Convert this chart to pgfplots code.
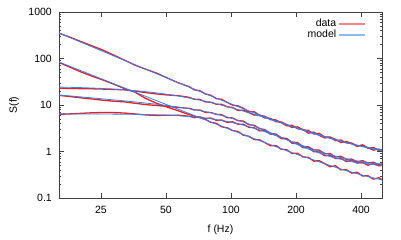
\documentclass[border=0pt]{standalone}
\usepackage{fontspec}
\setmainfont{Liberation Sans}
\usepackage{pgfplots}
\usepackage{pgfplotstable}
\pgfplotsset{compat=1.18}
\definecolor{datared}{RGB}{245,25,25}
\definecolor{modelblue}{RGB}{40,130,245}

\pgfplotstableread{
f A C B D E
16.00 350 23.1 82.4 16.1 6.31
17.96 288 22.6 65.2 15.2 6.43
20.16 232 22.5 51.6 14.3 6.61
22.63 189 22.3 42.1 13.5 6.79
25.40 153 22.0 34.8 12.7 6.90
28.51 120 21.6 28.4 12.1 6.88
32.00 93.0 21.2 22.7 11.7 6.72
35.92 72.0 19.9 18.9 10.9 6.42
40.32 58.9 18.5 13.8 10.2 6.11
45.25 48.5 17.3 10.9 9.75 5.96
50.80 38.1 16.4 9.0 9.32 6.03
57.02 30.0 15.9 7.5 8.85 6.05
64.00 24.8 14.6 6.23 8.49 5.72
67.82 21.1 13.2 5.73 7.78 5.35
71.84 20.3 13.2 5.32 7.80 5.55
76.11 17.3 11.6 4.93 6.95 5.12
80.63 16.2 11.5 4.23 6.92 5.25
85.43 13.7 10.4 4.05 6.29 4.70
90.51 13.3 10.4 3.40 6.19 4.74
95.89 11.4 9.14 3.25 5.35 4.23
101.6 9.94 8.86 2.82 5.27 4.35
107.6 9.60 7.65 2.70 4.60 3.88
114.0 8.49 7.69 2.25 4.52 3.86
120.8 7.21 6.90 2.13 3.78 3.31
128.0 7.18 6.06 1.81 3.67 3.25
135.6 6.00 6.10 1.78 3.11 2.78
143.7 5.71 5.24 1.55 2.94 2.79
152.2 4.82 5.20 1.33 2.44 2.37
161.3 4.78 4.37 1.35 2.37 2.29
170.9 4.18 4.31 1.12 1.97 1.89
181.0 3.57 3.80 1.09 1.90 1.89
191.8 3.68 3.28 0.908 1.51 1.58
203.2 3.08 3.39 0.92 1.48 1.56
215.3 3.01 2.91 0.763 1.21 1.26
228.1 2.47 2.84 0.749 1.21 1.26
241.7 2.61 2.37 0.618 0.99 1.08
256.0 2.23 2.45 0.636 0.977 1.07
271.2 1.96 2.05 0.548 0.808 0.893
287.4 2.04 2.03 0.47 0.827 0.903
304.4 1.83 1.71 0.495 0.708 0.76
322.5 1.56 1.77 0.403 0.714 0.792
341.7 1.65 1.53 0.408 0.608 0.679
362.0 1.47 1.52 0.342 0.642 0.686
383.6 1.30 1.31 0.357 0.563 0.60
406.4 1.39 1.36 0.298 0.582 0.636
430.5 1.18 1.20 0.301 0.508 0.563
456.1 1.22 1.07 0.254 0.551 0.588
483.3 1.05 1.13 0.273 0.49 0.523
512.0 1.12 0.99 0.233 0.515 0.551
}\datatab

\pgfplotstableread{
f A C B D E
16.00 353.7 24.31 84.1 16.41 6.44
17.96 282.4 24.01 67.94 15.66 6.43
20.16 225.6 23.64 54.88 14.94 6.42
22.63 180.2 23.19 44.34 14.24 6.41
25.40 144.0 22.64 35.83 13.56 6.39
28.51 115.1 21.99 28.95 12.91 6.37
32.00 92.0 21.23 23.40 12.27 6.34
35.92 73.6 20.34 18.92 11.64 6.29
40.32 58.9 19.32 15.30 11.00 6.23
45.25 47.1 18.18 12.37 10.37 6.14
50.80 37.75 16.93 10.01 9.71 6.03
57.02 30.27 15.58 8.10 9.03 5.87
64.00 24.3 14.17 6.56 8.32 5.66
71.84 19.53 12.73 5.32 7.57 5.39
80.63 15.72 11.29 4.32 6.78 5.05
90.51 12.68 9.91 3.50 5.95 4.65
101.6 10.25 8.60 2.85 5.12 4.18
114.0 8.32 7.39 2.32 4.30 3.68
128.0 6.77 6.31 1.89 3.53 3.16
143.7 5.54 5.35 1.55 2.85 2.66
161.3 4.55 4.51 1.27 2.26 2.20
181.0 3.76 3.80 1.04 1.79 1.80
203.2 3.14 3.20 0.86 1.41 1.47
228.1 2.63 2.70 0.72 1.13 1.21
256.0 2.23 2.29 0.60 0.93 1.01
287.4 1.91 1.95 0.50 0.78 0.86
322.5 1.66 1.67 0.42 0.68 0.74
362.0 1.46 1.45 0.36 0.60 0.66
406.4 1.29 1.27 0.31 0.56 0.60
456.1 1.16 1.13 0.27 0.52 0.56
512.0 1.06 1.01 0.24 0.50 0.53
}\modeltab

\begin{document}
\begin{tikzpicture}
\useasboundingbox (0,0) rectangle (401pt,240pt);
\begin{axis}[
  at={(59pt,42pt)}, anchor=south west,
  scale only axis, width=323pt, height=186pt,
  xmode=log, ymode=log,
  xmin=16, xmax=500, ymin=0.1, ymax=1000,
  xtick={25,50,100,200,400}, xticklabels={25,50,100,200,400},
  ytick={0.1,1,10,100,1000}, yticklabels={0.1,1,10,100,1000},
  minor ytick={0.2,0.3,0.4,0.5,0.6,0.7,0.8,0.9,2,3,4,5,6,7,8,9,20,30,40,50,60,70,80,90,200,300,400,500,600,700,800,900},
  xminorticks=false,
  /pgf/number format/assume math mode=true,
  tick label style={font=\fontsize{10.5}{12}\selectfont},
  label style={font=\fontsize{10.5}{12}\selectfont},
  xticklabel style={inner sep=0pt, yshift=-8pt},
  yticklabel style={inner sep=0pt, xshift=-7pt},
  xlabel={f (Hz)}, ylabel={S(f)},
  xlabel style={at={(axis description cs:0.5,-0.172)}, anchor=center},
  ylabel style={at={(axis description cs:-0.139,0.5)}, anchor=center},
  axis line style={black!75, line width=0.6pt},
  every tick/.style={black!75, line width=0.5pt},
  major tick length=5pt, minor tick length=2.5pt,
  legend style={at={(axis description cs:1,1)}, anchor=north east, xshift=-13pt, yshift=-3pt,
    draw=none, fill=none, font=\fontsize{10.5}{12}\selectfont, row sep=-2pt},
  legend cell align=right,
  legend plot pos=right,
]
\addplot[datared, line width=1.3pt,
  legend image code/.code={\draw[datared!55, line width=1.6pt] (0pt,0pt) -- (26pt,0pt);}]
  table[x=f, y=A] {\datatab};
\addlegendentry{data}
\addplot[datared, line width=1.3pt, forget plot] table[x=f, y=C] {\datatab};
\addplot[datared, line width=1.3pt, forget plot] table[x=f, y=B] {\datatab};
\addplot[datared, line width=1.3pt, forget plot] table[x=f, y=D] {\datatab};
\addplot[datared, line width=1.3pt, forget plot] table[x=f, y=E] {\datatab};
\addplot[modelblue, line width=0.8pt, smooth,
  legend image code/.code={\draw[modelblue!55, line width=1.6pt] (0pt,0pt) -- (26pt,0pt);}]
  table[x=f, y=A] {\modeltab};
\addlegendentry{model}
\addplot[modelblue, line width=0.8pt, smooth, forget plot] table[x=f, y=C] {\modeltab};
\addplot[modelblue, line width=0.8pt, smooth, forget plot] table[x=f, y=B] {\modeltab};
\addplot[modelblue, line width=0.8pt, smooth, forget plot] table[x=f, y=D] {\modeltab};
\addplot[modelblue, line width=0.8pt, smooth, forget plot] table[x=f, y=E] {\modeltab};
\end{axis}
\end{tikzpicture}
\end{document}
